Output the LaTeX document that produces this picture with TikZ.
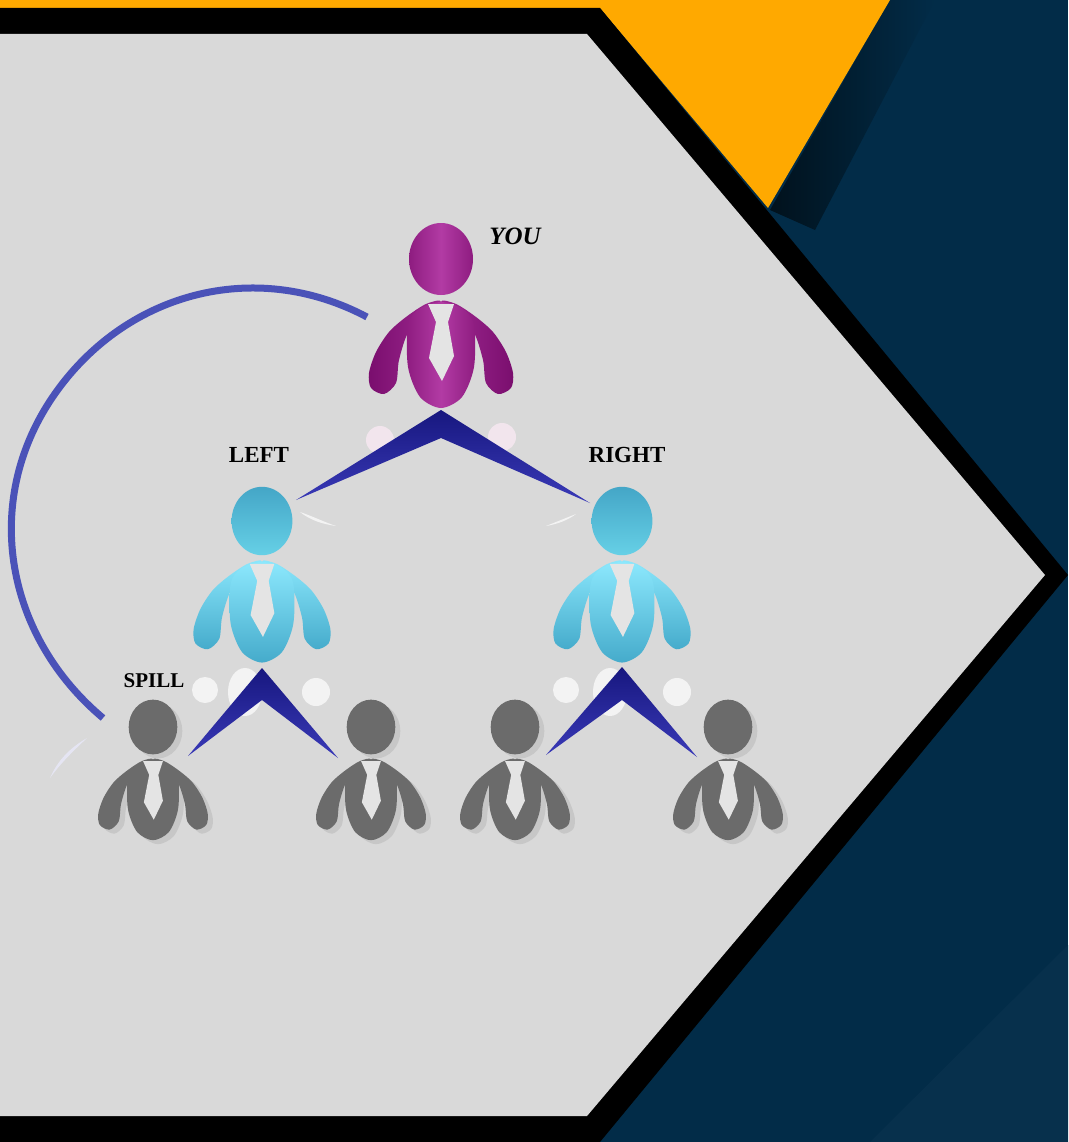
\documentclass[tikz,border=0pt]{standalone}
\usepackage{fontspec}
\setmainfont{Liberation Serif}
\usepackage{xcolor}
\usepackage{tikz}
\usetikzlibrary{positioning}

\definecolor{navy}{HTML}{022C48}
\definecolor{panel}{HTML}{D9D9D9}
\definecolor{amber}{HTML}{FFA900}
\definecolor{arcblue}{HTML}{4A52B8}
\definecolor{plumedge}{HTML}{8E1C80}
\definecolor{plummid}{HTML}{B23BA4}
\definecolor{plumdark}{HTML}{7A0E6E}
\definecolor{plumarm}{HTML}{A02A92}
\definecolor{skyhigh}{HTML}{8CE8FD}
\definecolor{skylow}{HTML}{45ABCB}
\definecolor{headhigh}{HTML}{44A6C7}
\definecolor{headlow}{HTML}{66D0E6}
\definecolor{wingdark}{HTML}{17177F}
\definecolor{winglight}{HTML}{3A3AB8}

\begin{document}
\begin{tikzpicture}[x=1pt, y=-1pt]
\tikzset{youbody/.style = {left color=plumedge, right color=plumedge, middle color=plummid}}
\tikzset{youleft/.style = {left color=plumdark, right color=plumarm}}
\tikzset{youright/.style = {right color=plumdark, left color=plumarm}}
\tikzset{bluehead/.style = {top color=headhigh, bottom color=headlow}}
\tikzset{bluebody/.style = {top color=skyhigh, bottom color=skylow}}
\tikzset{graybody/.style = {fill=black!58}}
\tikzset{shadebody/.style = {fill=black!22}}
\tikzset{tie/.style = {fill=panel!70!white}}
\tikzset{glow/.style = {fill=white, opacity=0.7}}
\tikzset{wing/.style = {top color=wingdark, bottom color=winglight}}
\tikzset{label/.style = {font=\bfseries\fontsize{23}{23}\selectfont, text=black, inner sep=0}}
\tikzset{pics/person/.style n args={5}{code={
  \begin{scope}[scale=#1]
	\path[#2] (0,0) ellipse [x radius=32, y radius=36];
	\path[#4] plot[smooth cycle] coordinates {(0,43) (-15,45) (-35,58) (-52,73) (-65,93) (-72,114) (-70,129) (-57,135) (-45,124) (-42,101) (-33,74) (-20,70)};
	\path[#5] plot[smooth cycle] coordinates {(0,43) (15,45) (35,58) (52,73) (65,93) (72,114) (70,129) (57,135) (45,124) (42,101) (33,74) (20,70)};
	\path[#3] plot[smooth cycle] coordinates {(-33,66) (-33,108) (-21,138) (0,149) (21,138) (33,108) (33,66) (22,50) (0,43) (-22,50)};
	\path[tie] (-13,45) -- (13,45) -- (7,63) -- (13,97) -- (1,122) -- (-12,99) -- (-5,63) -- cycle;
  \end{scope}}}}
	\useasboundingbox (0,0) rectangle (1068,1142);

	% background
	\path[fill=navy] (0,0) rectangle (1068,1142);
	\path[left color=black!60!navy, right color=navy] (770,210) -- (890,0) -- (935,0) -- (815,230) -- cycle;
	\path[fill=navy!98!white] (870,1142) -- (1068,945) -- (1068,1142) -- cycle;
	\path[fill=amber] (0,0) -- (890,0) -- (768,208) -- (600,8) -- (0,8) -- cycle;
	\path[fill=black] (0,8) -- (600,8) -- (1068,575) -- (600,1142) -- (0,1142) -- cycle;
	\path[fill=panel] (0,34) -- (587,34) -- (1045,575) -- (587,1116) -- (0,1116) -- cycle;

	% pale marks
	\path[glow, fill=magenta!8!white] (380,440) circle (14);
	\path[glow, fill=magenta!8!white] (502,437) circle (14);
	\foreach \xa/\xb/\xc in {205/245/316, 566/610/677} {
		\path[glow] (\xa,690) circle (13);
		\path[glow] (\xb,692) ellipse [x radius=17, y radius=24];
		\path[glow] (\xc,692) circle (14);
	}
	\path[glow, fill=blue!8!white] (50,778) .. controls (58,760) and (70,748) .. (87,738) .. controls (72,752) and (60,764) .. cycle;
	\path[glow] (300,512) .. controls (312,516) and (324,522) .. (336,526) .. controls (322,524) and (310,520) .. cycle;
	\path[glow] (546,526) .. controls (556,522) and (566,518) .. (576,514) .. controls (568,520) and (558,524) .. cycle;

	% people
	\pic at (441,259) {person={1}{youbody}{youbody}{youleft}{youright}};
	\pic at (262,521) {person={0.95}{bluehead}{bluebody}{bluebody}{bluebody}};
	\pic at (622,521) {person={0.95}{bluehead}{bluebody}{bluebody}{bluebody}};
	\foreach \x in {153,371,515,728} {
		\pic at (\x+5,731) {person={0.76}{shadebody}{shadebody}{shadebody}{shadebody}};
		\pic at (\x,727) {person={0.76}{graybody}{graybody}{graybody}{graybody}};
	}

	% labels
	\node[label, font=\bfseries\itshape\fontsize{25}{25}\selectfont] (you) at (515,236) {YOU};
	\node[label] (left) at (259,455) {LEFT};
	\node[label] (right) at (627,455) {RIGHT};
	\node[label, font=\bfseries\fontsize{21}{21}\selectfont] (spill) at (154,681) {SPILL};

	% wings
	\coordinate (apexyou) at (441,410);
	\coordinate (apexleft) at (262,668);
	\coordinate (apexright) at (622,667);
	\coordinate (tipleft) at (296,500);
	\coordinate (tipright) at (590,503);
	\coordinate (tipa) at (188,756);
	\coordinate (tipb) at (338,758);
	\coordinate (tipc) at (546,755);
	\coordinate (tipd) at (697,757);
	\path[wing] (apexyou) -- (tipright) -- (441,438) -- (tipleft) -- cycle;
	\path[wing] (apexleft) -- (tipb) -- (262,700) -- (tipa) -- cycle;
	\path[wing] (apexright) -- (tipd) -- (622,700) -- (tipc) -- cycle;

	% spill arc
	\coordinate (arcyou) at (367,317);
	\coordinate (arcmid) at (52,398);
	\coordinate (arcspill) at (103,718);
	\draw[arcblue, line width=7pt] (arcyou) to[out=152, in=56] (arcmid) to[out=236, in=140] (arcspill);
\end{tikzpicture}
\end{document}
